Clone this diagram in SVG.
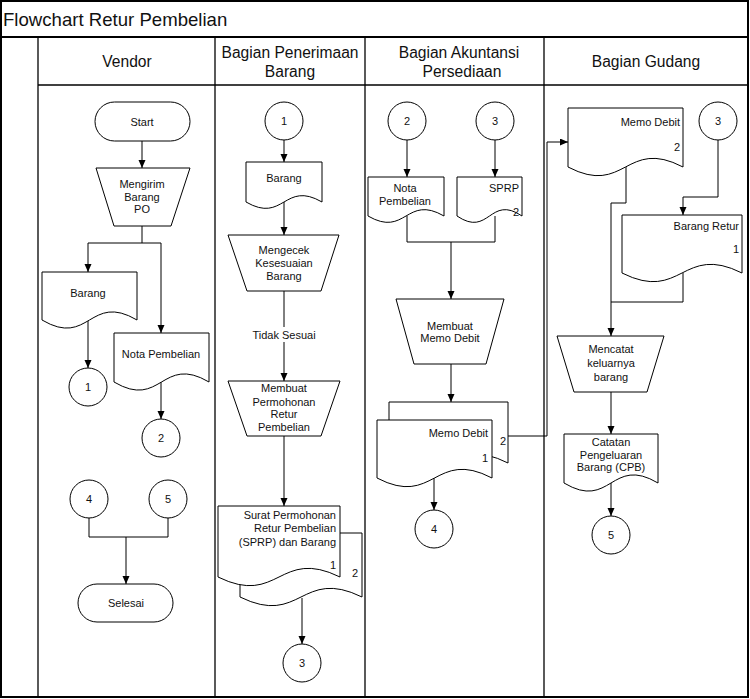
<svg xmlns="http://www.w3.org/2000/svg" width="750" height="699" viewBox="0 0 750 699">
<defs>
<marker id="ah" markerWidth="8" markerHeight="8" refX="8" refY="3.5" orient="auto" markerUnits="userSpaceOnUse">
<path d="M0,0 L8,3.5 L0,7 Z" fill="#000"/>
</marker>
<style>
.s{fill:#fff;stroke:#000;stroke-width:1}
.c{fill:none;stroke:#000;stroke-width:1}
.a{fill:none;stroke:#000;stroke-width:1;marker-end:url(#ah)}
.f{stroke:#000;fill:none}
text{font-family:"Liberation Sans",Arial,sans-serif;fill:#111}
.t{font-size:11px;text-anchor:middle}
.r{font-size:11px;text-anchor:end}
.h{font-size:15.6px;text-anchor:middle}
</style>
</defs>
<rect width="750" height="699" fill="#fff"/>
<g id="frame">
<rect x="1" y="1" width="747" height="696" class="f" stroke-width="2"/>
<line x1="1" y1="37" x2="748" y2="37" class="f" stroke-width="2"/>
<line x1="38" y1="37" x2="38" y2="697" class="f" stroke-width="1.3"/>
<line x1="38" y1="85" x2="748" y2="85" class="f" stroke-width="1.3"/>
<line x1="215" y1="37" x2="215" y2="697" class="f" stroke-width="1.3"/>
<line x1="365" y1="37" x2="365" y2="697" class="f" stroke-width="1.3"/>
<line x1="544" y1="37" x2="544" y2="697" class="f" stroke-width="1.3"/>
<text x="3" y="26" style="font-size:18.6px">Flowchart Retur Pembelian</text>
<text class="h" x="127" y="67">Vendor</text>
<text class="h" x="290" y="58">Bagian Penerimaan</text>
<text class="h" x="290" y="77">Barang</text>
<text class="h" x="459" y="58">Bagian Akuntansi</text>
<text class="h" x="462" y="77">Persediaan</text>
<text class="h" x="646" y="67">Bagian Gudang</text>
</g>
<g id="connectors">
<line class="a" x1="142" y1="141" x2="142" y2="168"/>
<line class="c" x1="142" y1="226" x2="142" y2="243"/>
<line class="c" x1="88" y1="243" x2="161" y2="243"/>
<line class="a" x1="88" y1="243" x2="88" y2="272"/>
<line class="a" x1="161" y1="243" x2="161" y2="333"/>
<line class="a" x1="88" y1="320" x2="88" y2="368"/>
<line class="a" x1="161" y1="382" x2="161" y2="419"/>
<polyline class="c" points="89,518 89,537 168,537 168,518"/>
<line class="a" x1="126" y1="537" x2="126" y2="584"/>
<line class="a" x1="284" y1="140" x2="284" y2="162"/>
<line class="a" x1="284" y1="202" x2="284" y2="235"/>
<line class="a" x1="284" y1="291" x2="284" y2="381"/>
<line class="a" x1="284" y1="436" x2="284" y2="506"/>
<line class="a" x1="302" y1="598" x2="302" y2="644"/>
<line class="a" x1="407" y1="140" x2="407" y2="177"/>
<line class="a" x1="495" y1="140" x2="495" y2="177"/>
<polyline class="c" points="407,216 407,242 495,242 495,216"/>
<line class="a" x1="451" y1="242" x2="451" y2="299"/>
<line class="a" x1="451" y1="364" x2="451" y2="402"/>
<line class="a" x1="434" y1="478" x2="434" y2="510"/>
<polyline class="a" points="508,436 547,436 547,142 568,142"/>
<polyline class="a" points="718,140 718,197 683,197 683,215"/>
<polyline class="a" points="626,167 626,203 611,203 611,336"/>
<polyline class="c" points="683,273 683,302 611,302"/>
<line class="a" x1="611" y1="392" x2="611" y2="434"/>
<line class="a" x1="611" y1="483" x2="611" y2="516"/>
</g>
<g id="label-tidak-sesuai">
<rect x="250" y="327" width="68" height="15" fill="#fff"/>
<text class="t" x="284" y="339">Tidak Sesuai</text>
</g>
<g id="start">
<rect class="s" x="95" y="102" width="95" height="39" rx="19.5"/>
<text class="t" x="142" y="126">Start</text>
</g>
<g id="mengirim">
<polygon class="s" points="96,168 190,168 171,226 114,226"/>
<text class="t" x="142" y="188">Mengirim</text>
<text class="t" x="142" y="201">Barang</text>
<text class="t" x="142" y="213">PO</text>
</g>
<g id="v-barang">
<path class="s" d="M42,272 H137 V320 C89.5,292 89.5,348 42,320 Z"/>
<text class="t" x="88" y="297">Barang</text>
</g>
<g id="v-nota">
<path class="s" d="M114,333 H209 V382 C161.5,354 161.5,410 114,382 Z"/>
<text class="t" x="161" y="358">Nota Pembelian</text>
</g>
<g id="v-c1"><circle class="s" cx="88" cy="387" r="19"/><text class="t" x="88" y="391">1</text></g>
<g id="v-c2"><circle class="s" cx="161" cy="438" r="19"/><text class="t" x="161" y="442">2</text></g>
<g id="v-c4"><circle class="s" cx="89" cy="499" r="19"/><text class="t" x="89" y="503">4</text></g>
<g id="v-c5"><circle class="s" cx="168" cy="499" r="19"/><text class="t" x="168" y="503">5</text></g>
<g id="selesai">
<rect class="s" x="78" y="584" width="95" height="38" rx="19"/>
<text class="t" x="126" y="607">Selesai</text>
</g>
<g id="p-c1"><circle class="s" cx="284" cy="121" r="19"/><text class="t" x="284" y="125">1</text></g>
<g id="p-barang">
<path class="s" d="M246,162 H322 V202 C284,180 284,224 246,202 Z"/>
<text class="t" x="284" y="182">Barang</text>
</g>
<g id="mengecek">
<polygon class="s" points="228,235 339,235 321,291 247,291"/>
<text class="t" x="284" y="254">Mengecek</text>
<text class="t" x="284" y="267">Kesesuaian</text>
<text class="t" x="284" y="280">Barang</text>
</g>
<g id="membuat-permohonan">
<polygon class="s" points="228,381 340,381 321,436 247,436"/>
<text class="t" x="284" y="392">Membuat</text>
<text class="t" x="284" y="406">Permohonan</text>
<text class="t" x="284" y="418">Retur</text>
<text class="t" x="284" y="431">Pembelian</text>
</g>
<g id="sprp-doc">
<path class="s" d="M240,533 H362 V597 C301,567 301,627 240,597 Z"/>
<path class="s" d="M218,506 H340 V577 C279,547 279,607 218,577 Z"/>
<text class="r" x="336" y="519">Surat Permohonan</text>
<text class="r" x="336" y="532">Retur Pembelian</text>
<text class="r" x="336" y="546">(SPRP) dan Barang</text>
<text class="r" x="336" y="569">1</text>
<text class="r" x="358" y="577">2</text>
</g>
<g id="p-c3"><circle class="s" cx="302" cy="663" r="19"/><text class="t" x="302" y="667">3</text></g>
<g id="a-c2"><circle class="s" cx="407" cy="121" r="19"/><text class="t" x="407" y="125">2</text></g>
<g id="a-c3"><circle class="s" cx="495" cy="121" r="19"/><text class="t" x="495" y="125">3</text></g>
<g id="a-nota">
<path class="s" d="M368,177 H444 V216 C406,194 406,238 368,216 Z"/>
<text class="t" x="405" y="192">Nota</text>
<text class="t" x="405" y="205">Pembelian</text>
</g>
<g id="a-sprp">
<path class="s" d="M457,177 H522 V216 C489.5,194 489.5,238 457,216 Z"/>
<text class="r" x="519" y="192">SPRP</text>
<text class="r" x="519" y="216">2</text>
</g>
<g id="membuat-memo">
<polygon class="s" points="396,299 504,299 486,364 414,364"/>
<text class="t" x="450" y="330">Membuat</text>
<text class="t" x="450" y="342">Memo Debit</text>
</g>
<g id="a-memo">
<path class="s" d="M389,402 H508 V463 C448.5,433 448.5,493 389,463 Z"/>
<path class="s" d="M377,420 H492 V478 C434.5,448 434.5,508 377,478 Z"/>
<text class="r" x="488" y="437">Memo Debit</text>
<text class="r" x="506" y="445">2</text>
<text class="r" x="488" y="462">1</text>
</g>
<g id="a-c4"><circle class="s" cx="434" cy="529" r="19"/><text class="t" x="434" y="533">4</text></g>
<g id="g-memo">
<path class="s" d="M568,108 H683 V167 C625.5,137 625.5,197 568,167 Z"/>
<text class="r" x="680" y="126">Memo Debit</text>
<text class="r" x="680" y="151">2</text>
</g>
<g id="g-c3"><circle class="s" cx="718" cy="121" r="19"/><text class="t" x="718" y="125">3</text></g>
<g id="g-barang-retur">
<path class="s" d="M622,215 H742 V273 C682,243 682,303 622,273 Z"/>
<text class="r" x="739" y="230">Barang Retur</text>
<text class="r" x="739" y="253">1</text>
</g>
<g id="mencatat">
<polygon class="s" points="557,336 664,336 647,392 574,392"/>
<text class="t" x="611" y="353">Mencatat</text>
<text class="t" x="611" y="367">keluarnya</text>
<text class="t" x="611" y="381">barang</text>
</g>
<g id="catatan">
<path class="s" d="M564,434 H658 V483 C611,455 611,511 564,483 Z"/>
<text class="t" x="611" y="446">Catatan</text>
<text class="t" x="611" y="459">Pengeluaran</text>
<text class="t" x="611" y="471">Barang (CPB)</text>
</g>
<g id="g-c5"><circle class="s" cx="611" cy="535" r="19"/><text class="t" x="611" y="539">5</text></g>
</svg>
